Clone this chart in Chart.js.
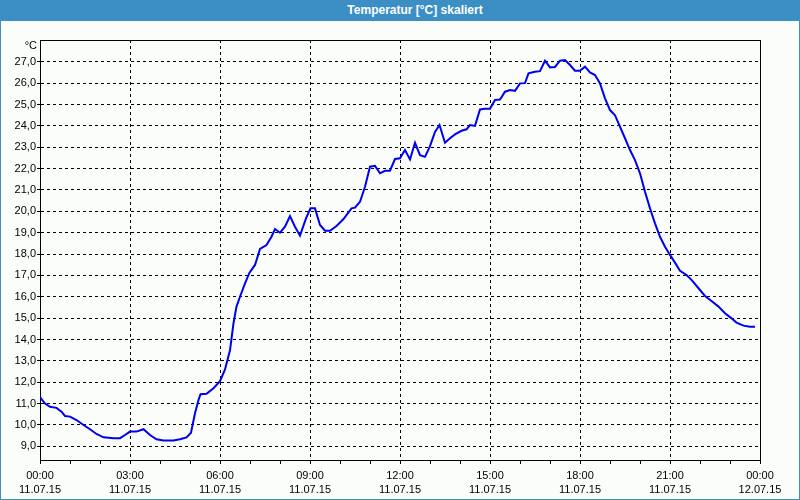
<!DOCTYPE html>
<html lang="de">
<head>
    <meta charset="UTF-8">
    <title>Temperatur [°C] skaliert</title>
    <script src="https://cdn.jsdelivr.net/npm/chart.js"></script>
    <style>
        html, body { margin: 0; padding: 0; background: #fbfdfb; }
        .frame {
            position: relative;
            width: 800px;
            height: 500px;
            box-sizing: border-box;
            border: 1px solid #3c8fc4;
            background: #fbfdfb;
        }
        .header {
            position: absolute;
            left: -1px; top: -1px;
            width: 800px; height: 21px;
            background: #3c8fc4;
            color: #fff;
            font: bold 12px "Liberation Sans", Arial, sans-serif;
            line-height: 21px;
            text-align: center;
            padding-left: 30px;
            box-sizing: border-box;
        }
        canvas { position: absolute; left: -1px; top: -1px; }
    </style>
</head>
<body>
<div class="frame">
    <div class="header">Temperatur [°C] skaliert</div>
    <canvas id="tempChart" width="800" height="500"></canvas>
</div>

<script>
    // minutes since 11.07.15 00:00
    const minutes = [0, 10, 20, 33, 43, 50, 60, 73, 87, 100, 113, 127, 147, 160, 170, 180, 193, 207, 220, 233,
        247, 267, 280, 293, 302, 310, 317, 321, 333, 347, 360, 370, 380, 387, 393, 400, 410, 419, 430, 440,
        453, 463, 470, 480, 490, 500, 510, 520, 532, 541, 550, 560, 570, 580, 593, 607, 623, 630, 640, 650,
        660, 670, 680, 690, 700, 710, 720, 730, 740, 750, 760, 770, 780, 790, 799, 810, 820, 830, 843, 853,
        860, 870, 880, 890, 900, 910, 920, 930, 940, 950, 960, 970, 977, 990, 1000, 1010, 1020, 1030, 1040, 1050,
        1060, 1070, 1080, 1090, 1100, 1110, 1120, 1130, 1140, 1150, 1160, 1170, 1180, 1190, 1200, 1210, 1220, 1230, 1240, 1250,
        1260, 1270, 1280, 1293, 1303, 1317, 1330, 1343, 1357, 1370, 1383, 1393, 1407, 1420, 1430];
    const temps = [11.3, 11.0, 10.85, 10.8, 10.62, 10.42, 10.39, 10.23, 10.0, 9.8, 9.58, 9.42, 9.38, 9.38, 9.53, 9.69, 9.69, 9.8, 9.53, 9.33,
        9.27, 9.27, 9.33, 9.42, 9.64, 10.55, 11.17, 11.44, 11.46, 11.72, 12.05, 12.6, 13.5, 14.76, 15.54, 16.0, 16.63, 17.13, 17.49, 18.24,
        18.42, 18.81, 19.17, 19.0, 19.28, 19.78, 19.28, 18.86, 19.67, 20.14, 20.14, 19.36, 19.09, 19.09, 19.31, 19.64, 20.14, 20.17, 20.45, 21.15,
        22.09, 22.13, 21.78, 21.9, 21.9, 22.45, 22.48, 22.87, 22.43, 23.21, 22.63, 22.55, 23.05, 23.72, 24.04, 23.21, 23.42, 23.6, 23.77, 23.84,
        24.04, 24.0, 24.77, 24.8, 24.8, 25.21, 25.23, 25.6, 25.68, 25.64, 25.99, 26.0, 26.46, 26.53, 26.56, 27.05, 26.74, 26.76, 27.05, 27.08,
        26.85, 26.58, 26.58, 26.77, 26.5, 26.38, 25.99, 25.29, 24.74, 24.5, 23.96, 23.42, 22.87, 22.4, 21.78, 20.92, 20.14, 19.44, 18.81, 18.34,
        17.96, 17.6, 17.22, 17.02, 16.79, 16.4, 16.04, 15.8, 15.54, 15.23, 14.99, 14.79, 14.65, 14.6, 14.6];

    const xTimes = ["00:00", "03:00", "06:00", "09:00", "12:00", "15:00", "18:00", "21:00", "00:00"];
    const xDates = ["11.07.15", "11.07.15", "11.07.15", "11.07.15", "11.07.15", "11.07.15", "11.07.15", "11.07.15", "12.07.15"];
    const yTicks = [9, 10, 11, 12, 13, 14, 15, 16, 17, 18, 19, 20, 21, 22, 23, 24, 25, 26, 27];

    const font = { family: "'Liberation Sans', Arial, sans-serif", size: 11, lineHeight: 1.3 };

    // hourly tick marks, labels every 3 hours
    const hourTicks = [];
    for (let m = 0; m <= 1440; m += 60) hourTicks.push({ value: m });

    const plotFrame = {
        id: "plotFrame",
        beforeDatasetsDraw(chart) {
            const a = chart.chartArea;
            const c = chart.ctx;
            c.save();
            c.strokeStyle = "#000";
            c.lineWidth = 1;
            c.strokeRect(Math.round(a.left) + 0.5, Math.round(a.top) + 0.5,
                Math.round(a.right - a.left), Math.round(a.bottom - a.top));
            c.restore();
        },
        afterDraw(chart) {
            const c = chart.ctx;
            c.save();
            c.fillStyle = "#000";
            c.font = "11px " + font.family;
            c.textAlign = "right";
            c.textBaseline = "middle";
            c.fillText("°C", 37, 46);
            c.restore();
        }
    };

    new Chart(document.getElementById("tempChart"), {
        type: "line",
        data: {
            datasets: [{
                data: minutes.map((m, i) => ({ x: m, y: temps[i] })),
                borderColor: "#0000f0",
                borderWidth: 2,
                pointRadius: 0,
                tension: 0,
                fill: false
            }]
        },
        options: {
            responsive: false,
            animation: false,
            layout: { padding: { top: 40, right: 40, left: 0, bottom: 0 } },
            plugins: {
                legend: { display: false },
                tooltip: { enabled: false }
            },
            scales: {
                x: {
                    type: "linear",
                    min: 0,
                    max: 1440,
                    afterBuildTicks: s => { s.ticks = hourTicks.map(t => ({ value: t.value })); },
                    afterFit: s => { s.height = 40; },
                    ticks: {
                        autoSkip: false,
                        maxRotation: 0,
                        color: "#000",
                        font: font,
                        padding: 5,
                        callback: v => v % 180 === 0 ? [xTimes[v / 180], xDates[v / 180]] : ""
                    },
                    grid: {
                        color: ctx => (ctx.tick && ctx.tick.value % 180 === 0) ? "#000" : "rgba(0,0,0,0)",
                        tickColor: "#000",
                        tickLength: 4,
                        lineWidth: 1
                    },
                    border: { color: "#000", dash: [3, 3] }
                },
                y: {
                    min: 8.36,
                    max: 28.02,
                    afterBuildTicks: s => { s.ticks = yTicks.map(v => ({ value: v })); },
                    afterFit: s => { s.width = 40; },
                    ticks: {
                        color: "#000",
                        font: { family: font.family, size: 11 },
                        padding: 1,
                        callback: v => v.toFixed(1).replace(".", ",")
                    },
                    grid: {
                        color: "#000",
                        tickColor: "#000",
                        tickLength: 3,
                        lineWidth: 1
                    },
                    border: { color: "#000", dash: [3, 3] }
                }
            }
        },
        plugins: [plotFrame]
    });
</script>
</body>
</html>
